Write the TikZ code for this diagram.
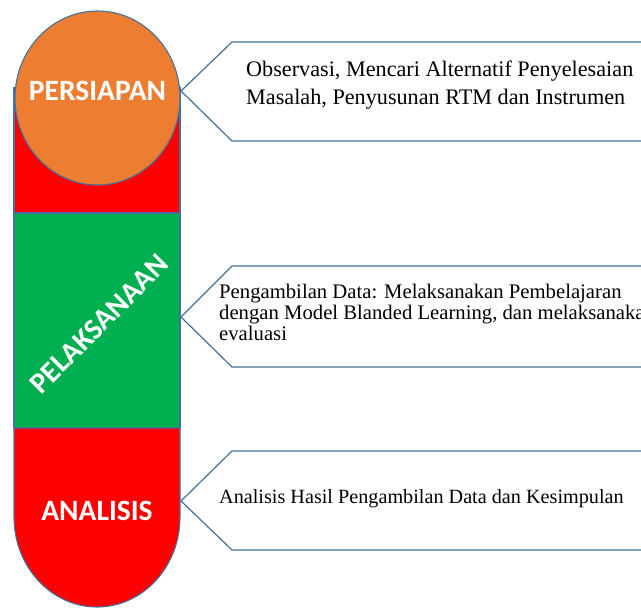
\documentclass[tikz,border=0pt]{standalone}
\usepackage{fontspec}
\setmainfont{Liberation Serif}
\newfontfamily\labelfont{Carlito}
\definecolor{outl}{HTML}{41719C}
\definecolor{orng}{HTML}{ED7D31}
\definecolor{grn}{HTML}{00B050}
\definecolor{rd}{HTML}{FF0000}
\begin{document}
\begin{tikzpicture}[x=1pt,y=-1pt,
  seg/.style={draw=outl,line width=1.1pt},
  lbl/.style={text=white,font=\labelfont\bfseries\fontsize{29.5}{32}\selectfont,inner sep=0},
  callout/.style={draw=outl,line width=1.2pt,fill=white,line join=miter},
  ctext/.style={anchor=base west,inner sep=0,font=\fontsize{20.7}{24}\selectfont}]
\useasboundingbox (0,0) rectangle (641,610);
\clip (0,0) rectangle (641,610);
% column
\draw[seg,fill=rd] (14,88) rectangle (180,213);
\draw[seg,fill=grn] (14,213) rectangle (180,428);
\draw[seg,fill=rd] (14,428) -- (14,517) arc[start angle=180,end angle=0,x radius=83,y radius=90] -- (180,428) -- cycle;
\draw[seg,fill=orng] (97.5,98) ellipse[x radius=82.5,y radius=87];
\node[lbl] (persiapan) at (97.5,91) {PERSIAPAN};
\node[lbl,rotate=45] (pelaksanaan) at (99,324) {PELAKSANAAN};
\node[lbl] (analisis) at (97,511) {ANALISIS};
% callouts
\draw[callout] (181,91) -- (232,42) -- (660,42) -- (660,141) -- (232,141) -- cycle;
\draw[callout] (181,317) -- (232,266) -- (660,266) -- (660,367) -- (232,367) -- cycle;
\draw[callout] (181,501) -- (232,451) -- (660,451) -- (660,550) -- (232,550) -- cycle;
\node[ctext,font=\fontsize{22.2}{26}\selectfont] (t1a) at (246,77) {Observasi, Mencari Alternatif Penyelesaian};
\node[ctext,font=\fontsize{22.2}{26}\selectfont] (t1b) at (246,105) {Masalah, Penyusunan RTM dan Instrumen};
\node[ctext] (t2a) at (219,298) {Pengambilan Data: Melaksanakan Pembelajaran};
\node[ctext] (t2b) at (219,319) {dengan Model Blanded Learning, dan melaksanakan};
\node[ctext] (t2c) at (219,340) {evaluasi};
\node[ctext,font=\fontsize{20.2}{24}\selectfont] (t3) at (219,503) {Analisis Hasil Pengambilan Data dan Kesimpulan};
\end{tikzpicture}
\end{document}
